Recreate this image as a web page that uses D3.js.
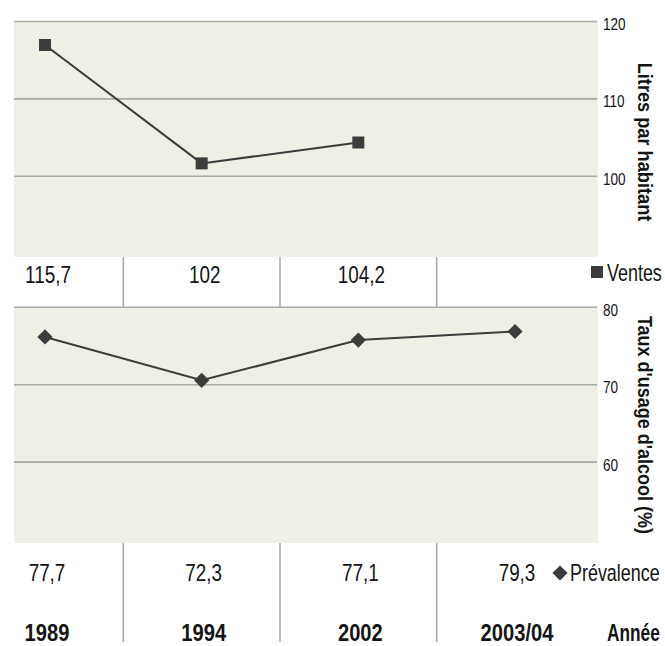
<!DOCTYPE html>
<html><head><meta charset="utf-8">
<script src="https://cdn.jsdelivr.net/npm/d3@7"></script>
<style>
body{margin:0;background:#fff}
svg{display:block}
text{font-family:"Liberation Sans",Arial,sans-serif;fill:#141414}
</style>
</head><body>
<svg id="c" width="665" height="646"></svg>
<script>
// ---- data ----
const years = ["1989", "1994", "2002", "2003/04"];
const ventesYears = ["1989", "1994", "2002"];
const ventesValues = [116.9, 101.6, 104.3];          // plotted (litres par habitant)
const ventesLabels = ["115,7", "102", "104,2"];       // printed in the table row
const prevalenceValues = [76.1, 70.5, 75.7, 76.8];    // plotted (taux d'usage, %)
const prevalenceLabels = ["77,7", "72,3", "77,1", "79,3"];
const ventesTicks = [100, 110, 120];
const prevalenceTicks = [60, 70, 80];
const ventesDomain = [89.5, 120];
const prevalenceDomain = [49.5, 80];

// ---- layout ----
const svg = d3.select("#c");
const FONT = '"Liberation Sans",Arial,sans-serif';
const left = 14, right = 597;
const topPanel = {y0: 21, y1: 257};
const botPanel = {y0: 306.7, y1: 543};
const lineColor = "#3c3c3c";
const gridColor = "#a9a9a6";
const fillColor = "#eff0e5";

// condense text horizontally (narrow typeface look) with a transform
function condense(sel, f, extra) {
  sel.each(function () {
    const t = d3.select(this);
    const tx = +t.attr("x") || 0, ty = +t.attr("y") || 0;
    t.attr("x", 0).attr("y", 0)
      .attr("transform", `translate(${tx},${ty})${extra ? " " + extra : ""} scale(${f},1)`);
  });
  return sel;
}

const x = d3.scalePoint().domain(years).range([45, 515]);
const yTop = d3.scaleLinear().domain(ventesDomain).range([topPanel.y1, topPanel.y0]);
const yBot = d3.scaleLinear().domain(prevalenceDomain).range([botPanel.y1, botPanel.y0]);

// panels
[topPanel, botPanel].forEach(p => {
  svg.append("rect").attr("x", left).attr("y", p.y0)
    .attr("width", right - left + 1).attr("height", p.y1 - p.y0)
    .attr("fill", fillColor);
});

// column dividers (midpoints between categories)
const mids = years.slice(1).map((d, i) => (x(years[i]) + x(d)) / 2);
svg.append("g").selectAll("line").data(mids).join("line")
  .attr("x1", d => d).attr("x2", d => d)
  .attr("y1", topPanel.y1).attr("y2", botPanel.y0)
  .attr("stroke", "#a6a6a6").attr("stroke-width", 1.5);
svg.append("g").selectAll("line").data(mids).join("line")
  .attr("x1", d => d).attr("x2", d => d)
  .attr("y1", botPanel.y1).attr("y2", 642)
  .attr("stroke", "#a6a6a6").attr("stroke-width", 1.5);

// right axes with gridlines
function drawAxis(scale, ticks) {
  const g = svg.append("g").attr("transform", `translate(${right},0)`)
    .call(d3.axisRight(scale).tickValues(ticks).tickFormat(d3.format("d"))
      .tickSize(-(right - left)).tickPadding(6));
  g.select(".domain").remove();
  g.selectAll(".tick line").attr("stroke", gridColor).attr("stroke-width", 1.6);
  const t = g.selectAll(".tick text").attr("font-size", 17).attr("dy", "0.5em")
    .style("font-family", FONT).attr("fill", "#141414");
  condense(t, 0.8);
}
drawAxis(yTop, ventesTicks);
drawAxis(yBot, prevalenceTicks);

// lines
const ventesData = ventesYears.map((d, i) => ({year: d, v: ventesValues[i]}));
const prevData = years.map((d, i) => ({year: d, v: prevalenceValues[i]}));

svg.append("path").datum(ventesData)
  .attr("d", d3.line().x(d => x(d.year)).y(d => yTop(d.v)))
  .attr("fill", "none").attr("stroke", lineColor).attr("stroke-width", 2);
svg.append("path").datum(prevData)
  .attr("d", d3.line().x(d => x(d.year)).y(d => yBot(d.v)))
  .attr("fill", "none").attr("stroke", lineColor).attr("stroke-width", 2);

const square = d3.symbol(d3.symbolSquare, 144);
const diamond = d3.symbol(d3.symbolSquare, 116);
svg.append("g").selectAll("path").data(ventesData).join("path")
  .attr("d", square).attr("fill", lineColor)
  .attr("transform", d => `translate(${x(d.year)},${yTop(d.v)})`);
svg.append("g").selectAll("path").data(prevData).join("path")
  .attr("d", diamond).attr("fill", lineColor)
  .attr("transform", d => `translate(${x(d.year)},${yBot(d.v)}) rotate(45)`);

// table rows
condense(svg.append("g").selectAll("text").data(ventesYears).join("text")
  .attr("x", d => x(d) + 3).attr("y", 283).attr("text-anchor", "middle")
  .attr("font-size", 23).text((d, i) => ventesLabels[i]), 0.82);
condense(svg.append("g").selectAll("text").data(years).join("text")
  .attr("x", d => x(d) + 2).attr("y", 581).attr("text-anchor", "middle")
  .attr("font-size", 23).text((d, i) => prevalenceLabels[i]), 0.82);
condense(svg.append("g").selectAll("text").data(years).join("text")
  .attr("x", d => x(d) + 2).attr("y", 641).attr("text-anchor", "middle")
  .attr("font-size", 24).attr("font-weight", "bold").text(d => d), 0.84);

// legends
svg.append("rect").attr("x", 591).attr("y", 266).attr("width", 12).attr("height", 12).attr("fill", lineColor);
condense(svg.append("text").attr("x", 607).attr("y", 281).attr("font-size", 23).text("Ventes"), 0.78);
svg.append("path").attr("d", diamond).attr("fill", lineColor)
  .attr("transform", "translate(560,573) rotate(45)");
condense(svg.append("text").attr("x", 570).attr("y", 581).attr("font-size", 23).text("Prévalence"), 0.78);
condense(svg.append("text").attr("x", 607).attr("y", 641)
  .attr("font-size", 24).attr("font-weight", "bold").text("Année"), 0.72);

// axis titles
condense(svg.append("text").attr("x", 645).attr("y", 142)
  .attr("text-anchor", "middle").attr("dy", "0.36em")
  .attr("font-size", 20).attr("font-weight", "bold").text("Litres par habitant"), 0.91, "rotate(90)");
condense(svg.append("text").attr("x", 645).attr("y", 425)
  .attr("text-anchor", "middle").attr("dy", "0.36em")
  .attr("font-size", 20).attr("font-weight", "bold").text("Taux d'usage d'alcool (%)"), 0.9, "rotate(90)");
</script>
</body></html>
